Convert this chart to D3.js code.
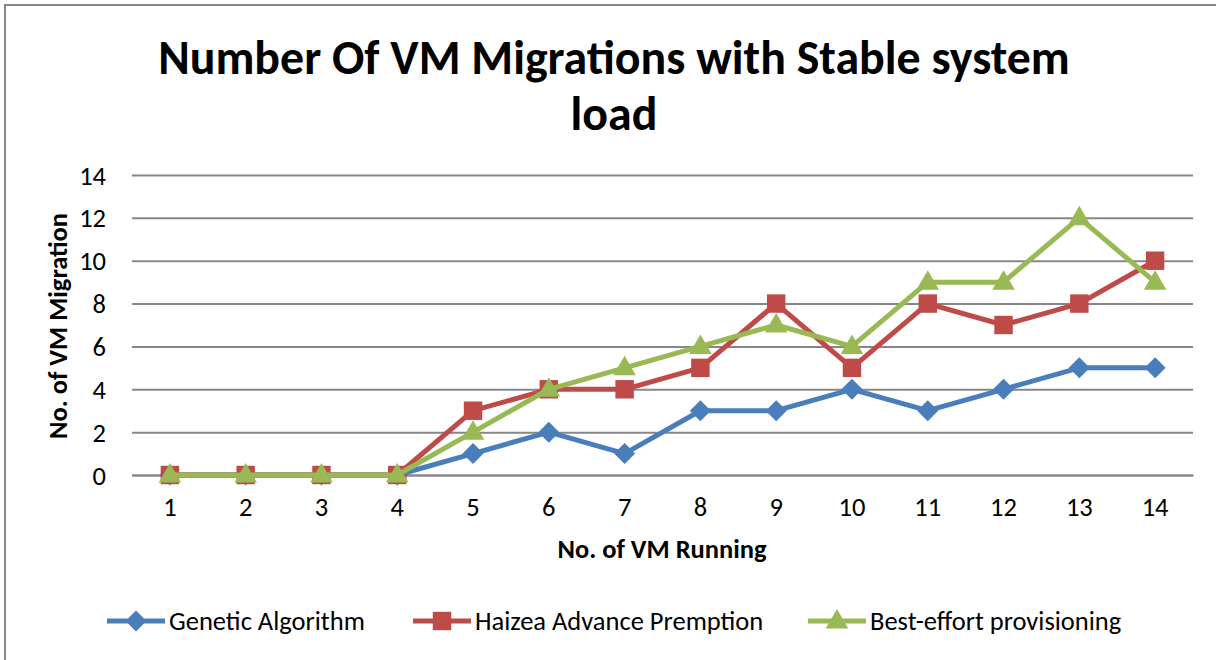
<!DOCTYPE html>
<html><head><meta charset="utf-8">
<script src="https://cdn.jsdelivr.net/npm/d3@7"></script>
<style>body{margin:0;background:#fff}svg{display:block}text{font-family:Carlito,"Open Sans","Liberation Sans",sans-serif}</style>
</head><body><svg id="c" width="1216" height="660"></svg>
<script>
const categories = ["1","2","3","4","5","6","7","8","9","10","11","12","13","14"];
const genetic = [0,0,0,0,1,2,1,3,3,4,3,4,5,5];
const haizea = [0,0,0,0,3,4,4,5,8,5,8,7,8,10];
const bestEffort = [0,0,0,0,2,4,5,6,7,6,9,9,12,9];
const yTicks = [0,2,4,6,8,10,12,14];
const seriesNames = ["Genetic Algorithm","Haizea Advance Premption","Best-effort provisioning"];
const colors = ["#4A7EBB","#BE4B48","#98B954"];
const symbols = [d3.symbolSquare, d3.symbolSquare, d3.symbolTriangle];
const symSizes = [220, 340, 220];
const rot = [45, 0, 0];
const dyOff = [0, 0, 1];

const svg = d3.select("#c");
svg.append("rect").attr("x",5).attr("y",5).attr("width",1220).attr("height",670)
  .attr("fill","#fff").attr("stroke","#878787").attr("stroke-width",2);

const x = d3.scaleBand().domain(categories).range([132,1193]);
const y = d3.scaleLinear().domain([0,14]).range([475,175]);
const FS = 26.5;

const yAxis = d3.axisLeft(y).tickValues(yTicks).tickSize(-(1193-132)).tickPadding(26);
const gy = svg.append("g").attr("transform","translate(132,0)").call(yAxis);
gy.select(".domain").remove();
gy.selectAll(".tick line").attr("stroke","#878787").attr("stroke-width",2);
gy.selectAll(".tick text").attr("font-size",FS).attr("fill","#000").attr("dy","0.34em");

const xAxis = d3.axisBottom(x).tickSize(0).tickPadding(22);
const gx = svg.append("g").attr("transform","translate(0,475)").call(xAxis);
gx.select(".domain").attr("stroke","#878787").attr("stroke-width",2);
gx.selectAll(".tick text").attr("font-size",FS).attr("fill","#000");

const all = [genetic, haizea, bestEffort];
const line = d3.line().x((d,i)=>x(categories[i])+x.bandwidth()/2).y(d=>y(d));
all.forEach((s,k)=>{
  svg.append("path").datum(s).attr("d",line).attr("fill","none")
    .attr("stroke",colors[k]).attr("stroke-width",5).attr("stroke-linejoin","round");
  svg.append("g").selectAll("path").data(s).join("path")
    .attr("d",d3.symbol().type(symbols[k]).size(symSizes[k]))
    .attr("transform",(d,i)=>`translate(${x(categories[i])+x.bandwidth()/2},${y(d)+dyOff[k]}) rotate(${rot[k]})`)
    .attr("fill",colors[k]);
});

function fit(t, w){ let fs=+t.attr("font-size"); const bw=t.node().getComputedTextLength(); t.attr("font-size",fs*w/bw); }
const t1 = svg.append("text").attr("x",614).attr("y",74).attr("text-anchor","middle")
  .attr("font-weight","bold").attr("font-size",38).text("Number Of VM Migrations with Stable system");
fit(t1, 912);
svg.append("text").attr("x",614).attr("y",130).attr("text-anchor","middle")
  .attr("font-weight","bold").attr("font-size",+t1.attr("font-size")).text("load");

svg.append("text").attr("x",662).attr("y",558).attr("text-anchor","middle")
  .attr("font-weight","bold").attr("font-size",FS).text("No. of VM Running");
svg.append("text").attr("transform","translate(67,326) rotate(-90)").attr("text-anchor","middle")
  .attr("font-weight","bold").attr("font-size",FS).text("No. of VM Migration");

const lx = [107, 413, 808];
seriesNames.forEach((n,k)=>{
  const g = svg.append("g");
  g.append("line").attr("x1",lx[k]).attr("x2",lx[k]+58).attr("y1",621).attr("y2",621)
    .attr("stroke",colors[k]).attr("stroke-width",5);
  g.append("path").attr("d",d3.symbol().type(symbols[k]).size(symSizes[k]))
    .attr("transform",`translate(${lx[k]+29},${621+dyOff[k]}) rotate(${rot[k]})`).attr("fill",colors[k]);
  g.append("text").attr("x",lx[k]+62).attr("y",630).attr("font-size",FS).text(n);
});
</script></body></html>
